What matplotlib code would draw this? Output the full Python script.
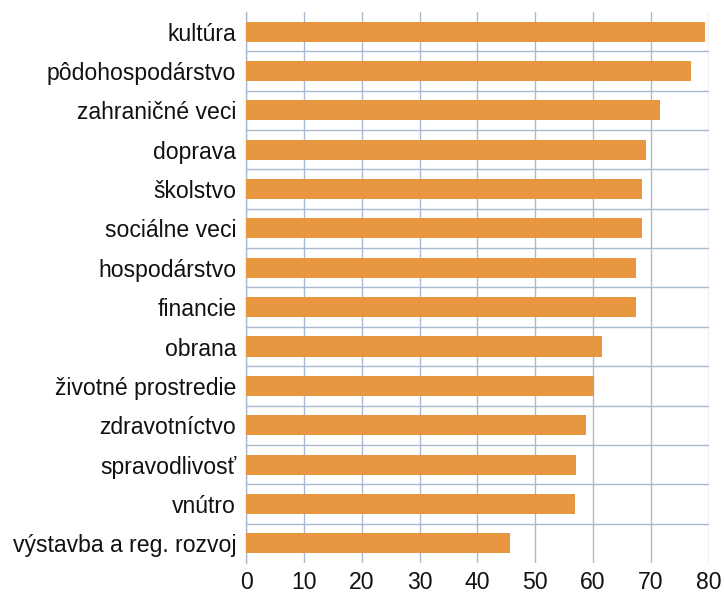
import matplotlib
matplotlib.use("Agg")
import matplotlib.pyplot as plt
import numpy as np

categories = [
    "kultúra", "pôdohospodárstvo", "zahraničné veci", "doprava", "školstvo",
    "sociálne veci", "hospodárstvo", "financie", "obrana", "životné prostredie",
    "zdravotníctvo", "spravodlivosť", "vnútro", "výstavba a reg. rozvoj",
]
values = [79.4, 77.0, 71.5, 69.1, 68.5, 68.4, 67.5, 67.4, 61.6, 60.1, 58.8, 57.1, 56.9, 45.7]
x_ticks = [0, 10, 20, 30, 40, 50, 60, 70, 80]

plt.rcParams["font.family"] = ["Liberation Sans", "DejaVu Sans"]

bar_color = "#E8963F"
grid_color = "#A9B9D2"

fig = plt.figure(figsize=(7.24, 5.96), dpi=100)
ax = fig.add_axes([0.3398, 0.0554, 0.6392, 0.9245])

y = np.arange(len(categories))
ax.barh(y, values, height=0.51, color=bar_color, zorder=3)

ax.set_xlim(0, 80)
ax.set_ylim(len(categories) - 0.5, -0.5)
ax.set_xticks(x_ticks)
ax.set_xticklabels([str(t) for t in x_ticks])
ax.set_yticks(y)
ax.set_yticklabels(categories)

# separators between categories
ax.set_yticks(np.arange(len(categories) - 1) + 0.5, minor=True)
ax.grid(axis="y", which="minor", color=grid_color, linewidth=1.0, zorder=1)
ax.grid(axis="x", which="major", color=grid_color, linewidth=1.0, zorder=1)

for side in ["top", "right", "bottom"]:
    ax.spines[side].set_visible(False)
ax.spines["left"].set_color(grid_color)
ax.spines["left"].set_linewidth(1.0)

ax.tick_params(axis="both", which="both", length=0)
ax.tick_params(axis="y", labelsize=16.6, labelcolor="#111111", pad=7)
ax.tick_params(axis="x", labelsize=16.6, labelcolor="#111111", pad=6)

fig.savefig("out.png", dpi=100, facecolor="white")
